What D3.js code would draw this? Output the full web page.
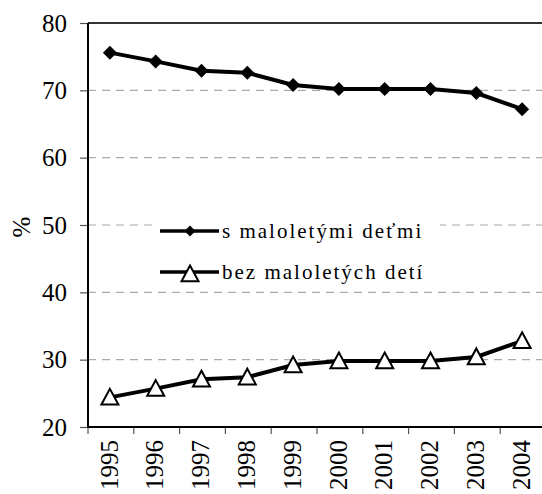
<!DOCTYPE html>
<html>
<head>
<meta charset="utf-8">
<script src="https://cdn.jsdelivr.net/npm/d3@7"></script>
</head>
<body style="margin:0">
<div id="main"></div>
<script>

// data
var years = ["1995", "1996", "1997", "1998", "1999", "2000", "2001", "2002", "2003", "2004"];
var withKids = [75.6, 74.3, 72.9, 72.6, 70.8, 70.2, 70.2, 70.2, 69.6, 67.2];
var withoutKids = [24.4, 25.7, 27.1, 27.4, 29.2, 29.8, 29.8, 29.8, 30.4, 32.8];
var yTicks = [20, 30, 40, 50, 60, 70, 80];
var seriesNames = ["s maloletými deťmi", "bez maloletých detí"];

var w = 542;
var h = 494;
var font = "'Liberation Serif'";

var svg = d3.select("#main").append("svg")
    .attr("width", w)
    .attr("height", h)
    .style("display", "block");

var x = d3.scaleBand()
    .domain(years)
    .range([87, 545]);

var y = d3.scaleLinear()
    .domain([20, 80])
    .range([427, 23]);

// grid lines
svg.selectAll("line.grid")
    .data(yTicks.filter(function(d) { return d > 20; }))
    .enter()
    .append("line")
    .attr("class", "grid")
    .attr("x1", 88)
    .attr("x2", 545)
    .attr("y1", function(d) { return y(d); })
    .attr("y2", function(d) { return y(d); })
    .attr("stroke", function(d) { return d == 80 ? "#333" : "#aaa"; })
    .attr("stroke-width", function(d) { return d == 80 ? 2 : 1.2; })
    .attr("stroke-dasharray", function(d) { return d == 80 ? null : "8,6"; });

// y axis
var yAxis = d3.axisLeft(y)
    .tickValues(yTicks)
    .tickSize(8)
    .tickPadding(13);

var gy = svg.append("g")
    .attr("transform", "translate(88,0)")
    .call(yAxis);
gy.select(".domain").remove();
gy.attr("font-family", null).attr("font-size", null);
gy.selectAll(".tick line").attr("stroke", "#555").attr("stroke-width", 1.2);
gy.selectAll(".tick text")
    .attr("font-size", 25)
    .style("font-family", font)
    .attr("fill", "#000");

// x axis ticks on band edges
var edges = years.map(function(d) { return x(d); }).concat([x.range()[1]]);
svg.selectAll("line.xtick")
    .data(edges)
    .enter()
    .append("line")
    .attr("x1", function(d) { return d + 1; })
    .attr("x2", function(d) { return d + 1; })
    .attr("y1", 427)
    .attr("y2", 434)
    .attr("stroke", "#555")
    .attr("stroke-width", 1.2);

svg.selectAll("text.xlab")
    .data(years)
    .enter()
    .append("text")
    .attr("class", "xlab")
    .attr("transform", function(d) {
      return "translate(" + (x(d) + x.bandwidth() / 2 - 1) + ",440) rotate(-90)";
    })
    .attr("dy", "0.35em")
    .attr("text-anchor", "end")
    .attr("font-size", 25)
    .style("font-family", font)
    .text(function(d) { return d; });

// axis lines
svg.append("line")
    .attr("x1", 88).attr("x2", 88)
    .attr("y1", 23).attr("y2", 428)
    .attr("stroke", "#000").attr("stroke-width", 2);
svg.append("line")
    .attr("x1", 87).attr("x2", 545)
    .attr("y1", 427).attr("y2", 427)
    .attr("stroke", "#000").attr("stroke-width", 2);

// y title
svg.append("text")
    .attr("transform", "translate(21,227) rotate(-90)")
    .attr("dy", "0.35em")
    .attr("text-anchor", "middle")
    .attr("font-size", 25)
    .style("font-family", font)
    .text("%");

var line = d3.line()
    .x(function(d, i) { return x(years[i]) + x.bandwidth() / 2; })
    .y(function(d) { return y(d); });

function diamond(r) {
  return "M0," + (-r) + "L" + r + ",0L0," + r + "L" + (-r) + ",0Z";
}
function triangle(r) {
  return "M0," + (-r) + "L" + r + "," + (r * 0.85) + "L" + (-r) + "," + (r * 0.85) + "Z";
}

// series 1
svg.append("path")
    .datum(withKids)
    .attr("d", line)
    .attr("fill", "none")
    .attr("stroke", "#000")
    .attr("stroke-width", 4);

svg.selectAll("path.dia")
    .data(withKids)
    .enter()
    .append("path")
    .attr("class", "dia")
    .attr("transform", function(d, i) {
      return "translate(" + (x(years[i]) + x.bandwidth() / 2) + "," + y(d) + ")";
    })
    .attr("d", diamond(7))
    .attr("fill", "#000");

// series 2
svg.append("path")
    .datum(withoutKids)
    .attr("d", line)
    .attr("fill", "none")
    .attr("stroke", "#000")
    .attr("stroke-width", 4);

svg.selectAll("path.tri")
    .data(withoutKids)
    .enter()
    .append("path")
    .attr("class", "tri")
    .attr("transform", function(d, i) {
      return "translate(" + (x(years[i]) + x.bandwidth() / 2) + "," + y(d) + ")";
    })
    .attr("d", triangle(8.5))
    .attr("fill", "#fff")
    .attr("stroke", "#000")
    .attr("stroke-width", 2);

// legend
var leg = svg.append("g");
leg.append("rect")
    .attr("x", 153).attr("y", 207)
    .attr("width", 287).attr("height", 80)
    .attr("fill", "#fff");

var rows = [231, 272];
rows.forEach(function(ry, i) {
  leg.append("line")
      .attr("x1", 160).attr("x2", 219)
      .attr("y1", ry).attr("y2", ry)
      .attr("stroke", "#000").attr("stroke-width", 3.5);
  if (i == 0) {
    leg.append("path")
        .attr("transform", "translate(190," + ry + ")")
        .attr("d", diamond(5.5))
        .attr("fill", "#000");
  } else {
    leg.append("path")
        .attr("transform", "translate(190," + (ry + 2) + ")")
        .attr("d", triangle(8.5))
        .attr("fill", "#fff")
        .attr("stroke", "#000")
        .attr("stroke-width", 2);
  }
  leg.append("text")
      .attr("x", 222)
      .attr("y", ry)
      .attr("dy", "0.32em")
      .attr("font-size", 21)
      .style("font-family", font)
      .attr("letter-spacing", 2)
      .text(seriesNames[i]);
});

</script>
</body>
</html>
